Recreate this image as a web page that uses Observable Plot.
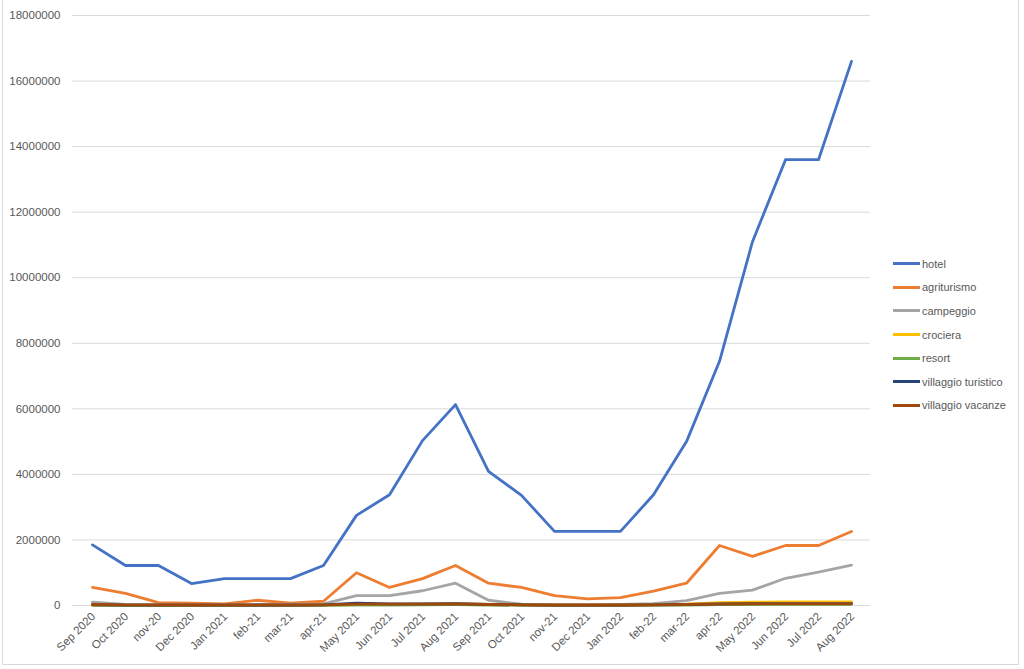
<!DOCTYPE html>
<html>
<head>
<meta charset="utf-8">
<script src="https://cdn.jsdelivr.net/npm/d3@7"></script>
<script src="https://cdn.jsdelivr.net/npm/@observablehq/plot@0.6"></script>
<style>
  body { margin: 0; background: #fff; font-family: "Liberation Sans", "Open Sans", sans-serif; }
  #wrap { position: relative; width: 1024px; height: 669px; overflow: hidden; }
  #frame { position: absolute; left: 2px; top: -1px; width: 1017px; height: 666px; border: 1px solid #d9d9d9; box-sizing: border-box; pointer-events: none; }
  #legend { position: absolute; left: 893px; top: 252px; font-size: 11px; color: #595959; }
  #legend .item { display: flex; align-items: center; height: 23.6px; }
  #legend .sw { width: 27px; height: 3px; margin-right: 2px; }
</style>
</head>
<body>
<div id="wrap"><div id="chart"></div><div id="legend"></div><div id="frame"></div></div>
<script>
const months = ["Sep 2020","Oct 2020","nov-20","Dec 2020","Jan 2021","feb-21","mar-21","apr-21","May 2021","Jun 2021","Jul 2021","Aug 2021","Sep 2021","Oct 2021","nov-21","Dec 2021","Jan 2022","feb-22","mar-22","apr-22","May 2022","Jun 2022","Jul 2022","Aug 2022"];

const seriesNames = ["hotel","agriturismo","campeggio","crociera","resort","villaggio turistico","villaggio vacanze"];
const seriesColors = ["#4472C4","#ED7D31","#A5A5A5","#FFC000","#70AD47","#264478","#9E480E"];

const hotel = [1850000,1220000,1220000,670000,820000,820000,820000,1220000,2750000,3380000,5030000,6130000,4090000,3360000,2260000,2260000,2260000,3380000,5000000,7450000,11100000,13600000,13600000,16600000];
const agriturismo = [550000,370000,90000,70000,50000,160000,70000,130000,1000000,550000,820000,1220000,680000,550000,300000,200000,240000,440000,680000,1830000,1500000,1830000,1830000,2260000];
const campeggio = [100000,30000,20000,20000,20000,30000,30000,50000,300000,300000,450000,680000,160000,40000,20000,20000,30000,60000,150000,370000,470000,830000,1020000,1230000];
const crociera = [10000,5000,5000,5000,5000,5000,5000,10000,30000,30000,40000,50000,30000,20000,10000,10000,10000,20000,40000,90000,100000,110000,110000,110000];
const resort = [10000,5000,5000,5000,5000,5000,5000,5000,15000,15000,20000,25000,15000,10000,5000,5000,5000,10000,15000,25000,30000,35000,35000,35000];
const villaggioTuristico = [20000,10000,10000,10000,10000,10000,10000,20000,70000,50000,50000,60000,30000,20000,10000,10000,10000,20000,30000,50000,60000,60000,60000,60000];
const villaggioVacanze = [30000,20000,15000,15000,15000,15000,15000,20000,40000,40000,45000,50000,30000,20000,15000,15000,15000,20000,30000,45000,50000,50000,50000,50000];

const yTicks = [0,2000000,4000000,6000000,8000000,10000000,12000000,14000000,16000000,18000000];

const allValues = [hotel, agriturismo, campeggio, crociera, resort, villaggioTuristico, villaggioVacanze];
const data = [];
seriesNames.forEach((name, si) => {
  months.forEach((m, i) => data.push({series: name, month: m, value: allValues[si][i]}));
});

const chart = Plot.plot({
  width: 1024,
  height: 669,
  marginLeft: 72,
  marginRight: 154,
  marginTop: 15,
  marginBottom: 64,
  style: { fontFamily: "Liberation Sans, Open Sans, sans-serif", fontSize: "11px", color: "#595959", background: "transparent" },
  x: { type: "point", domain: months, padding: 0.5, label: null },
  y: { domain: [0, 18000000], label: null },
  color: { domain: seriesNames, range: seriesColors },
  marks: [
    Plot.gridY(yTicks, { stroke: "#d9d9d9", strokeOpacity: 1, strokeWidth: 1 }),
    Plot.axisY(yTicks, { tickSize: 0, tickPadding: 12, tickFormat: d3.format("d"), fill: "#595959", fontSize: 11.5 }),
    Plot.axisX({ tickSize: 0, tickRotate: -45, tickPadding: 6, fill: "#595959", fontSize: 11.5, dx: 1, dy: 3 }),
    Plot.line(data, { x: "month", y: "value", z: "series", stroke: "series", strokeWidth: 2.8, strokeLinejoin: "round", strokeLinecap: "round" })
  ]
});
document.getElementById("chart").appendChild(chart);

const legend = document.getElementById("legend");
seriesNames.forEach((name, i) => {
  const item = document.createElement("div");
  item.className = "item";
  const sw = document.createElement("div");
  sw.className = "sw";
  sw.style.background = seriesColors[i];
  const tx = document.createElement("span");
  tx.textContent = name;
  item.appendChild(sw);
  item.appendChild(tx);
  legend.appendChild(item);
});
</script>
</body>
</html>
